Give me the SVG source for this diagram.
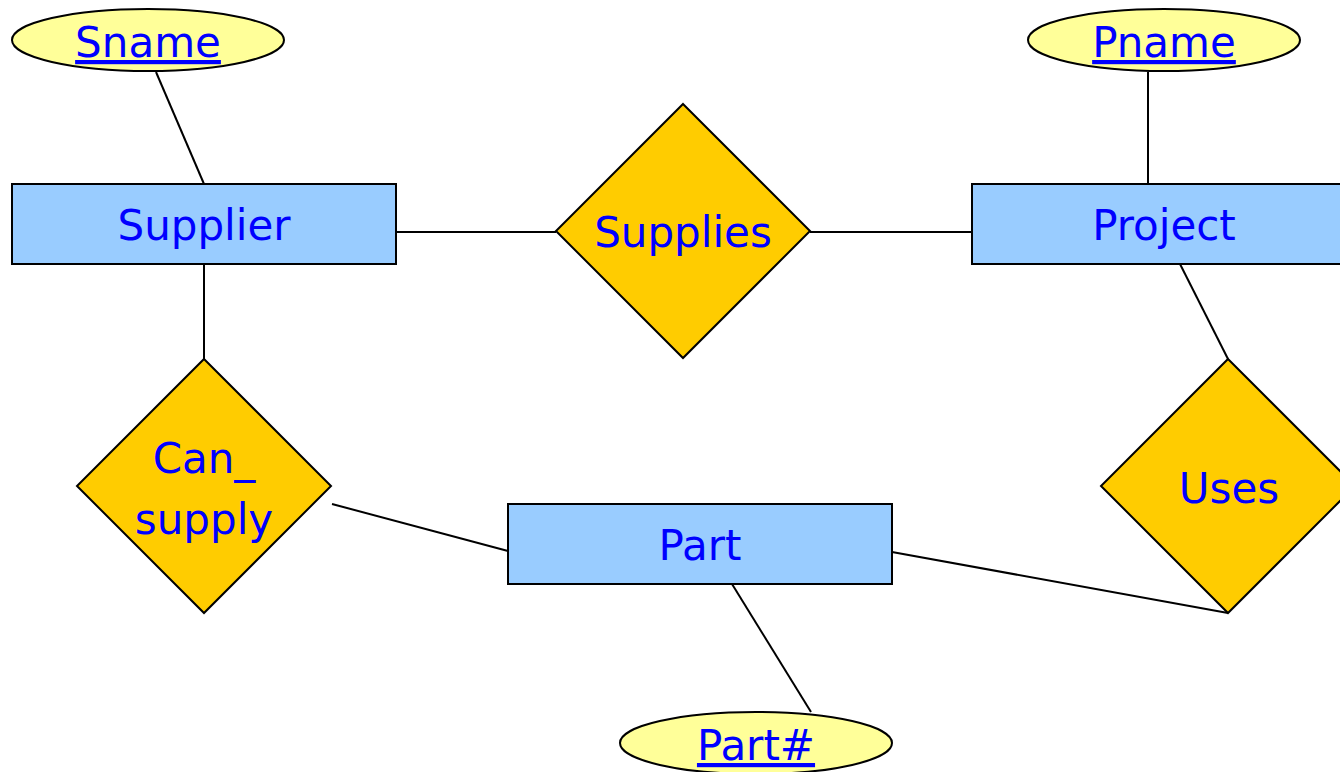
<svg xmlns="http://www.w3.org/2000/svg" width="1340" height="772" viewBox="0 0 1340 772">
<style>
.ent{fill:#99CCFF;stroke:#000;stroke-width:2}
.rel{fill:#FFCC00;stroke:#000;stroke-width:2}
.att{fill:#FFFF99;stroke:#000;stroke-width:2}
.ln{stroke:#000;stroke-width:2;fill:none}
text{font-family:"DejaVu Sans","Verdana",sans-serif;font-size:42px;fill:#0000FF;text-anchor:middle}
.key{text-decoration:underline}
</style>
<rect width="1340" height="772" fill="#fff"/>
<g id="connectors">
<line class="ln" x1="156" y1="72" x2="204" y2="184"/>
<line class="ln" x1="1148" y1="72" x2="1148" y2="184"/>
<line class="ln" x1="396" y1="232" x2="556" y2="232"/>
<line class="ln" x1="810" y1="232" x2="972" y2="232"/>
<line class="ln" x1="204" y1="264" x2="204" y2="359"/>
<line class="ln" x1="332" y1="504" x2="508" y2="551"/>
<line class="ln" x1="1180" y1="264" x2="1228" y2="359"/>
<line class="ln" x1="892" y1="552" x2="1228" y2="613"/>
<line class="ln" x1="732" y1="584" x2="811" y2="712"/>
</g>
<g id="sname"><ellipse class="att" cx="148" cy="40" rx="136" ry="31"/><text class="key" x="148" y="57">Sname</text></g>
<g id="pname"><ellipse class="att" cx="1164" cy="40" rx="136" ry="31"/><text class="key" x="1164" y="57">Pname</text></g>
<g id="partno"><ellipse class="att" cx="756" cy="743" rx="136" ry="31"/><text class="key" x="756" y="760">Part#</text></g>
<g id="supplier"><rect class="ent" x="12" y="184" width="384" height="80"/><text x="204" y="240">Supplier</text></g>
<g id="project"><rect class="ent" x="972" y="184" width="384" height="80"/><text x="1164" y="240">Project</text></g>
<g id="part"><rect class="ent" x="508" y="504" width="384" height="80"/><text x="700" y="560">Part</text></g>
<g id="supplies"><polygon class="rel" points="683,104 810,231 683,358 556,231"/><text x="683" y="247">Supplies</text></g>
<g id="can_supply"><polygon class="rel" points="204,359 331,486 204,613 77,486"/><text x="204" y="473">Can_</text><text x="204" y="534">supply</text></g>
<g id="uses"><polygon class="rel" points="1228,359 1355,486 1228,613 1101,486"/><text x="1229" y="503">Uses</text></g>
</svg>
